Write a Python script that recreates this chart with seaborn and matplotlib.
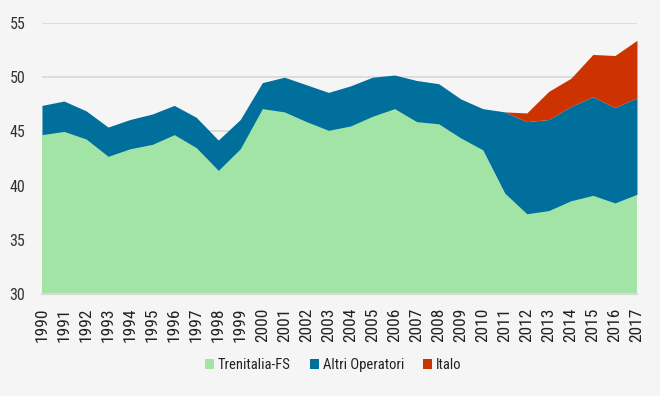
import numpy as np
import pandas as pd
import matplotlib
matplotlib.use("Agg")
import matplotlib.pyplot as plt
from matplotlib import font_manager
import seaborn as sns

# values (stacked area chart)
years = list(range(1990, 2018))
trenitalia = [44.7, 45.0, 44.3, 42.7, 43.4, 43.8, 44.7, 43.5, 41.4, 43.4,
              47.1, 46.8, 45.9, 45.1, 45.5, 46.4, 47.1, 45.9, 45.7, 44.4,
              43.3, 39.3, 37.4, 37.7, 38.6, 39.1, 38.4, 39.2]
totale_fs_altri = [47.4, 47.8, 46.9, 45.4, 46.1, 46.6, 47.4, 46.3, 44.2, 46.1,
                   49.5, 50.0, 49.3, 48.6, 49.2, 50.0, 50.2, 49.7, 49.4, 48.0,
                   47.1, 46.8, 45.9, 46.1, 47.3, 48.2, 47.2, 48.1]
totale = [47.4, 47.8, 46.9, 45.4, 46.1, 46.6, 47.4, 46.3, 44.2, 46.1,
          49.5, 50.0, 49.3, 48.6, 49.2, 50.0, 50.2, 49.7, 49.4, 48.0,
          47.1, 46.8, 46.7, 48.7, 49.9, 52.1, 52.0, 53.4]

df = pd.DataFrame({'Anno': years, 'Trenitalia-FS': trenitalia})
df['Altri Operatori'] = np.array(totale_fs_altri) - df['Trenitalia-FS']
df['Italo'] = np.clip(np.array(totale) - np.array(totale_fs_altri), 0, None)

sns.set_theme(style='white')
# narrow font if there is one
installed = {f.name for f in font_manager.fontManager.ttflist}
fams = [f for f in ['Liberation Sans Narrow', 'Roboto Condensed', 'DejaVu Sans Condensed']
        if f in installed]
plt.rcParams['font.family'] = fams + ['DejaVu Sans']

bg = '#f5f5f5'
colors = ['#a2e4a6', '#006f9c', '#cc3300']
labels = ['Trenitalia-FS', 'Altri Operatori', 'Italo']

fig = plt.figure(figsize=(6.6, 3.96), dpi=100, facecolor=bg)
ax = fig.add_axes([0.0636, 0.2576, 0.9015, 0.6843])
ax.set_facecolor(bg)

ax.stackplot(df['Anno'], df['Trenitalia-FS'], df['Altri Operatori'], df['Italo'],
             colors=colors, labels=labels, linewidth=0, zorder=2)

ax.set_xlim(1990, 2017)
ax.set_ylim(30, 55)
ax.set_yticks([30, 35, 40, 45, 50, 55])
ax.set_xticks(years)
ax.set_xticklabels([str(y) for y in years], rotation=90, fontsize=12.5, color='#222222')
ax.tick_params(axis='y', labelsize=11.5, labelcolor='#333333', length=0, pad=12)
ax.tick_params(axis='x', length=0, pad=10)
ax.grid(axis='y', color='#d8d8d8', linewidth=1.2, zorder=1)
ax.set_axisbelow(True)
for s in ['top', 'right', 'left']:
    ax.spines[s].set_visible(False)
ax.spines['bottom'].set_color('#d8d8d8')
ax.spines['bottom'].set_linewidth(1.5)

leg = fig.legend(*ax.get_legend_handles_labels(), loc='center', bbox_to_anchor=(0.505, 0.078),
                 ncol=3, frameon=False, fontsize=10.5, handlelength=0.6, handleheight=0.6,
                 handletextpad=0.3, columnspacing=1.3)
for t in leg.get_texts():
    t.set_color('#222222')

fig.savefig('out.png', dpi=100, facecolor=bg)
